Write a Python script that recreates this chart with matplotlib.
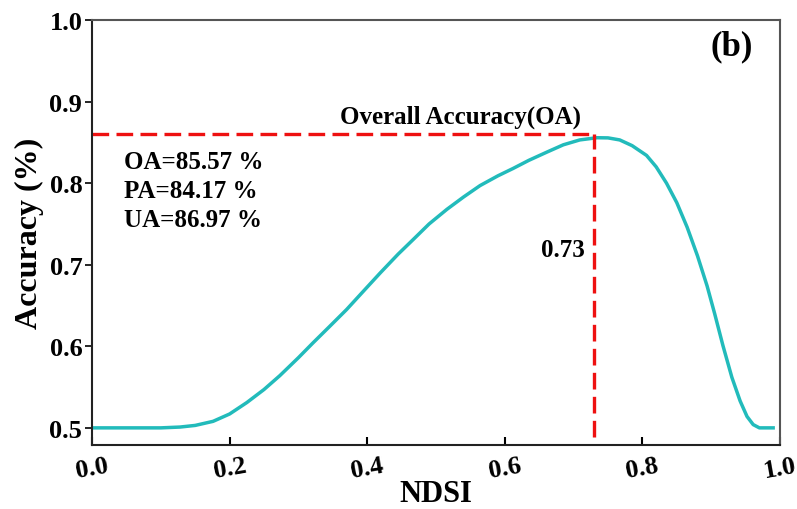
import numpy as np
import matplotlib.pyplot as plt

# curve
ndsi = [0.0, 0.05, 0.10, 0.128, 0.150, 0.176, 0.200, 0.225, 0.250, 0.273, 0.300, 0.321, 0.345,
        0.370, 0.395, 0.419, 0.445, 0.467, 0.490, 0.516, 0.540, 0.564, 0.590, 0.612, 0.635,
        0.661, 0.685, 0.709, 0.734, 0.750, 0.767, 0.785, 0.806, 0.820, 0.835, 0.850, 0.865,
        0.880, 0.894, 0.905, 0.917, 0.930, 0.942, 0.952, 0.961, 0.970, 0.980, 0.990]
accuracy = [0.500, 0.500, 0.500, 0.501, 0.503, 0.508, 0.517, 0.531, 0.547, 0.564, 0.586, 0.604, 0.624,
            0.645, 0.668, 0.690, 0.713, 0.731, 0.750, 0.768, 0.783, 0.797, 0.809, 0.818, 0.828,
            0.838, 0.847, 0.853, 0.8557, 0.8555, 0.853, 0.846, 0.834, 0.820, 0.800, 0.776, 0.746,
            0.711, 0.674, 0.640, 0.601, 0.562, 0.533, 0.514, 0.504, 0.500, 0.500, 0.500]

best_x = 0.73
best_y = 0.8597
stats = ["OA=85.57 %", "PA=84.17 %", "UA=86.97 %"]

plt.rcParams['font.family'] = ['Liberation Serif', 'DejaVu Serif']
plt.rcParams['font.weight'] = 'bold'

fig = plt.figure(figsize=(7.97, 5.10), dpi=100)
ax = fig.add_axes([0.1154, 0.1255, 0.8633, 0.8333])

ax.plot(ndsi, accuracy, color="#22BBBB", linewidth=2.5)
dash = (0, (5.0, 2.2))
ax.plot([0, best_x], [best_y, best_y], color="#EE1111", linestyle=dash, linewidth=2.4)
ax.plot([best_x, best_x], [0.40, best_y], color="#EE1111", linestyle=dash, linewidth=2.4)

ax.set_xlim(0, 1.0)
ax.set_ylim(0.479, 1.0)
ax.set_xticks([0.0, 0.2, 0.4, 0.6, 0.8, 1.0])
ax.set_yticks([0.5, 0.6, 0.7, 0.8, 0.9, 1.0])
ax.set_xticklabels(["0.0", "0.2", "0.4", "0.6", "0.8", "1.0"], rotation=10, fontsize=19, fontweight='bold')
ax.set_yticklabels(["0.5", "0.6", "0.7", "0.8", "0.9", "1.0"], fontsize=19, fontweight='bold')
ax.tick_params(axis='x', direction='in', length=6, width=1.5, pad=6)
ax.tick_params(axis='y', direction='out', length=5, width=1.2, pad=2)

for side in ['left', 'bottom']:
    ax.spines[side].set_color('#222222')
    ax.spines[side].set_linewidth(1.5)
for side in ['top', 'right']:
    ax.spines[side].set_color('#555555')
    ax.spines[side].set_linewidth(1.5)

ax.set_xlabel("NDSI", fontsize=22, fontweight='bold', labelpad=-2)
ax.set_ylabel("Accuracy (%)", fontsize=23, fontweight='bold', labelpad=4)

ax.text(0.536, 0.882, "Overall Accuracy(OA)", fontsize=18, fontweight='bold', ha='center', va='center')
for i, s in enumerate(stats):
    ax.text(0.047, 0.826 - i * 0.0355, s, fontsize=18, fontweight='bold', ha='left', va='center')
ax.text(0.716, 0.719, "0.73", fontsize=18, fontweight='bold', ha='right', va='center')
ax.text(0.93, 0.968, "(b)", fontsize=25, fontweight='bold', ha='center', va='center')

fig.savefig("out.png", dpi=100)
